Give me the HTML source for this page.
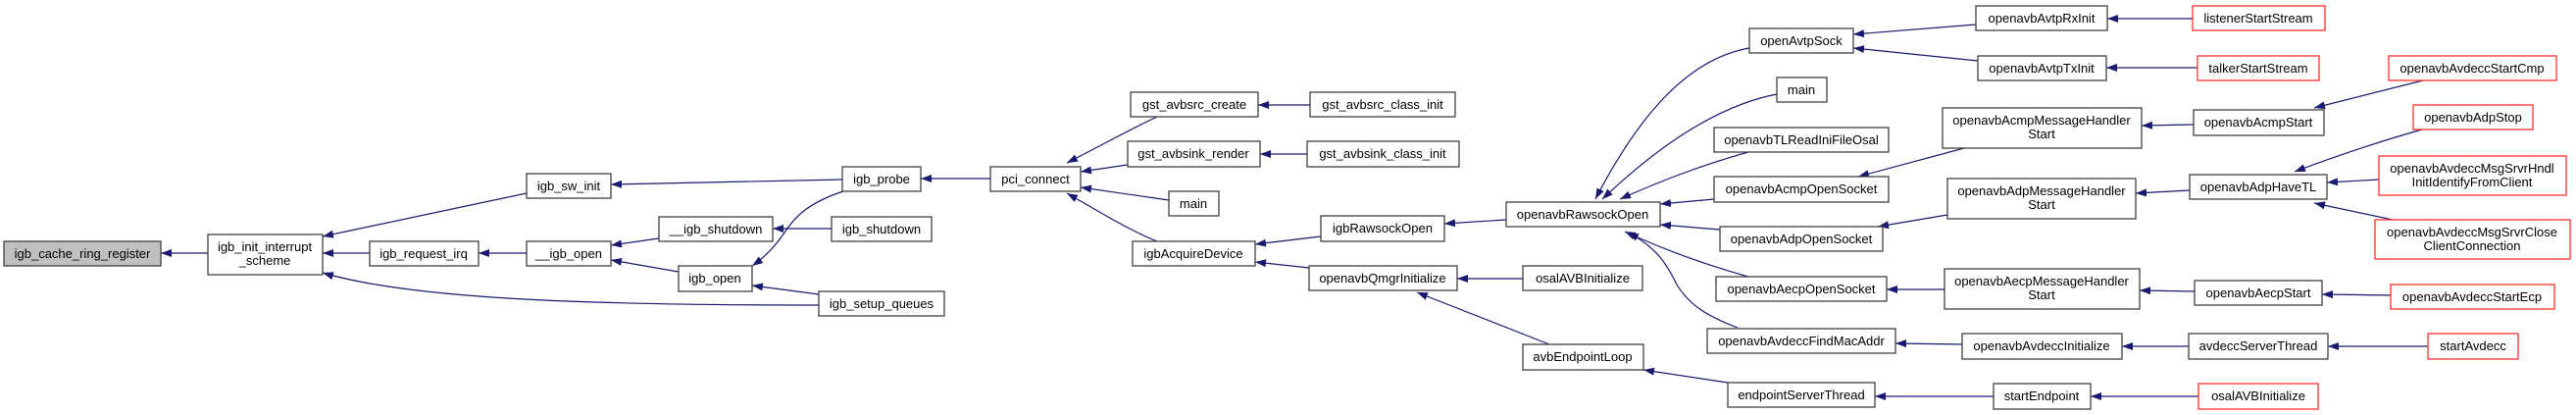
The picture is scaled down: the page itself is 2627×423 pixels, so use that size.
<!DOCTYPE html>
<html><head><meta charset="utf-8"><style>
html,body{margin:0;padding:0;background:#fff;}
svg{display:block;}
text{font-family:"Liberation Sans",sans-serif;font-size:13px;fill:#000;text-anchor:middle;}
.b{fill:#fff;stroke:#404040;stroke-width:1.3;}
.r{fill:#fff;stroke:#ff3030;stroke-width:1.3;}
.e{fill:none;stroke:#191970;stroke-width:1.2;marker-end:url(#a);}
</style></head><body>
<svg width="2627" height="423" viewBox="0 0 2627 423" xmlns="http://www.w3.org/2000/svg">
<defs><marker id="a" markerUnits="userSpaceOnUse" markerWidth="12" markerHeight="9" refX="11" refY="4" orient="auto"><path d="M0,0 L11,4 L0,8 z" fill="#191970"/></marker></defs>

<!-- edges -->
<path class="e" d="M212,258 L164,258"/>
<path class="e" d="M377,258 L329,258"/>
<path class="e" d="M537,197 L329,241"/>
<path class="e" d="M835,311 C600,311 420,305 329,278"/>
<path class="e" d="M537,258 L488,258"/>
<path class="e" d="M859,183 L623,188"/>
<path class="e" d="M672,243 L623,250"/>
<path class="e" d="M692,277 L623,265"/>
<path class="e" d="M848,233 L788,233"/>
<path class="e" d="M860,195 C820,208 808,225 800,237 C790,252 780,262 767,271"/>
<path class="e" d="M835,300 L767,291"/>
<path class="e" d="M1010,182 L939,182"/>
<path class="e" d="M1180,119 C1150,133 1120,150 1088,166"/>
<path class="e" d="M1150,168 L1102,175"/>
<path class="e" d="M1192,204 L1102,191"/>
<path class="e" d="M1180,246 C1150,234 1120,215 1088,197"/>
<path class="e" d="M1336,107 L1283,107"/>
<path class="e" d="M1333,157 L1285,157"/>
<path class="e" d="M1347,241 L1280,249"/>
<path class="e" d="M1335,273 L1280,267"/>
<path class="e" d="M1536,224 L1473,228"/>
<path class="e" d="M1554,284 L1486,284"/>
<path class="e" d="M1580,351 L1445,298"/>
<path class="e" d="M1762,390 L1676,377"/>
<path class="e" d="M1784,49 C1720,60 1670,120 1627,203"/>
<path class="e" d="M1812,96 C1750,108 1690,150 1634,203"/>
<path class="e" d="M1783,155 C1730,170 1690,186 1652,203"/>
<path class="e" d="M1748,203 L1693,208"/>
<path class="e" d="M1754,234 L1693,229"/>
<path class="e" d="M1783,282 C1740,270 1700,256 1657,236"/>
<path class="e" d="M1772,334 C1740,322 1722,310 1710,290 C1700,270 1690,252 1660,237"/>
<path class="e" d="M2015,25 L1890,35"/>
<path class="e" d="M2017,62 L1890,49"/>
<path class="e" d="M2003,151 L1895,180"/>
<path class="e" d="M1986,219 L1915,231"/>
<path class="e" d="M1983,295 L1924,295"/>
<path class="e" d="M2001,351 L1933,350"/>
<path class="e" d="M2033,404 L1912,404"/>
<path class="e" d="M2236,19 L2149,19"/>
<path class="e" d="M2241,69 L2148,69"/>
<path class="e" d="M2237,127 L2184,128"/>
<path class="e" d="M2471,82 L2360,110"/>
<path class="e" d="M2233,194 L2178,197"/>
<path class="e" d="M2470,132 C2420,146 2380,160 2340,175"/>
<path class="e" d="M2426,183 L2373,186"/>
<path class="e" d="M2440,224 L2360,207"/>
<path class="e" d="M2238,297 L2182,296"/>
<path class="e" d="M2438,301 L2368,300"/>
<path class="e" d="M2232,353 L2164,353"/>
<path class="e" d="M2476,353 L2374,353"/>
<path class="e" d="M2242,404 L2132,404"/>

<!-- nodes -->
<rect x="4" y="246" width="160" height="25" fill="#bfbfbf" stroke="#404040" stroke-width="1.3"/><text x="84" y="263">igb_cache_ring_register</text>
<rect class="b" x="212" y="239" width="117" height="41"/><text x="270" y="256">igb_init_interrupt</text><text x="270" y="270">_scheme</text>
<rect class="b" x="377" y="246" width="111" height="25"/><text x="432" y="263">igb_request_irq</text>
<rect class="b" x="537" y="177" width="86" height="25"/><text x="580" y="194">igb_sw_init</text>
<rect class="b" x="537" y="246" width="86" height="25"/><text x="580" y="263">__igb_open</text>
<rect class="b" x="672" y="221" width="116" height="25"/><text x="730" y="238">__igb_shutdown</text>
<rect class="b" x="692" y="271" width="75" height="26"/><text x="729" y="288">igb_open</text>
<rect class="b" x="859" y="170" width="80" height="25"/><text x="899" y="187">igb_probe</text>
<rect class="b" x="848" y="221" width="102" height="25"/><text x="899" y="238">igb_shutdown</text>
<rect class="b" x="835" y="297" width="128" height="25"/><text x="899" y="314">igb_setup_queues</text>
<rect class="b" x="1010" y="170" width="92" height="25"/><text x="1056" y="187">pci_connect</text>
<rect class="b" x="1153" y="94" width="130" height="25"/><text x="1218" y="111">gst_avbsrc_create</text>
<rect class="b" x="1336" y="94" width="148" height="25"/><text x="1410" y="111">gst_avbsrc_class_init</text>
<rect class="b" x="1150" y="144" width="135" height="26"/><text x="1217" y="161">gst_avbsink_render</text>
<rect class="b" x="1333" y="144" width="155" height="26"/><text x="1410" y="161">gst_avbsink_class_init</text>
<rect class="b" x="1192" y="195" width="51" height="25"/><text x="1217" y="212">main</text>
<rect class="b" x="1155" y="246" width="125" height="25"/><text x="1217" y="263">igbAcquireDevice</text>
<rect class="b" x="1347" y="220" width="126" height="26"/><text x="1410" y="237">igbRawsockOpen</text>
<rect class="b" x="1335" y="271" width="151" height="25"/><text x="1410" y="288">openavbQmgrInitialize</text>
<rect class="b" x="1536" y="206" width="157" height="25"/><text x="1614" y="223">openavbRawsockOpen</text>
<rect class="b" x="1553" y="271" width="122" height="25"/><text x="1614" y="288">osalAVBInitialize</text>
<rect class="b" x="1553" y="351" width="123" height="26"/><text x="1614" y="368">avbEndpointLoop</text>
<rect class="b" x="1784" y="29" width="106" height="25"/><text x="1837" y="46">openAvtpSock</text>
<rect class="b" x="1812" y="79" width="51" height="25"/><text x="1837" y="96">main</text>
<rect class="b" x="1748" y="130" width="178" height="25"/><text x="1837" y="147">openavbTLReadIniFileOsal</text>
<rect class="b" x="1748" y="180" width="178" height="26"/><text x="1837" y="197">openavbAcmpOpenSocket</text>
<rect class="b" x="1754" y="231" width="166" height="25"/><text x="1837" y="248">openavbAdpOpenSocket</text>
<rect class="b" x="1750" y="282" width="174" height="25"/><text x="1837" y="299">openavbAecpOpenSocket</text>
<rect class="b" x="1741" y="335" width="192" height="25"/><text x="1837" y="352">openavbAvdeccFindMacAddr</text>
<rect class="b" x="1762" y="390" width="150" height="25"/><text x="1837" y="407">endpointServerThread</text>
<rect class="b" x="2015" y="6" width="134" height="25"/><text x="2082" y="23">openavbAvtpRxInit</text>
<rect class="b" x="2017" y="57" width="131" height="25"/><text x="2082" y="74">openavbAvtpTxInit</text>
<rect class="b" x="1981" y="110" width="203" height="41"/><text x="2082" y="127">openavbAcmpMessageHandler</text><text x="2082" y="141">Start</text>
<rect class="b" x="1986" y="182" width="192" height="41"/><text x="2082" y="199">openavbAdpMessageHandler</text><text x="2082" y="213">Start</text>
<rect class="b" x="1983" y="274" width="199" height="41"/><text x="2082" y="291">openavbAecpMessageHandler</text><text x="2082" y="305">Start</text>
<rect class="b" x="2001" y="340" width="163" height="26"/><text x="2082" y="357">openavbAvdeccInitialize</text>
<rect class="b" x="2033" y="391" width="99" height="26"/><text x="2082" y="408">startEndpoint</text>
<rect class="r" x="2236" y="6" width="135" height="25"/><text x="2303" y="23">listenerStartStream</text>
<rect class="r" x="2241" y="57" width="124" height="25"/><text x="2303" y="74">talkerStartStream</text>
<rect class="b" x="2237" y="112" width="133" height="26"/><text x="2303" y="129">openavbAcmpStart</text>
<rect class="b" x="2233" y="178" width="140" height="25"/><text x="2303" y="195">openavbAdpHaveTL</text>
<rect class="b" x="2238" y="286" width="130" height="25"/><text x="2303" y="303">openavbAecpStart</text>
<rect class="b" x="2232" y="340" width="142" height="26"/><text x="2303" y="357">avdeccServerThread</text>
<rect class="r" x="2242" y="391" width="122" height="26"/><text x="2303" y="408">osalAVBInitialize</text>
<rect class="r" x="2436" y="57" width="171" height="25"/><text x="2521" y="74">openavbAvdeccStartCmp</text>
<rect class="r" x="2461" y="107" width="122" height="25"/><text x="2522" y="124">openavbAdpStop</text>
<rect class="r" x="2426" y="159" width="191" height="40"/><text x="2521" y="176">openavbAvdeccMsgSrvrHndl</text><text x="2521" y="190">InitIdentifyFromClient</text>
<rect class="r" x="2422" y="224" width="199" height="40"/><text x="2521" y="241">openavbAvdeccMsgSrvrClose</text><text x="2521" y="255">ClientConnection</text>
<rect class="r" x="2438" y="290" width="167" height="25"/><text x="2521" y="307">openavbAvdeccStartEcp</text>
<rect class="r" x="2476" y="340" width="92" height="26"/><text x="2522" y="357">startAvdecc</text>
</svg>
</body></html>
